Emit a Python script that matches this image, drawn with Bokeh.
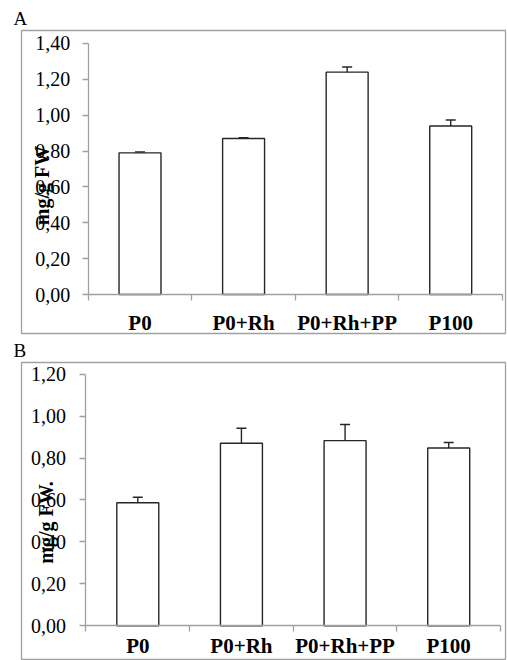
import math
from bokeh.plotting import figure
from bokeh.layouts import column
from bokeh.models import (LinearAxis, FixedTicker, Range1d, Whisker, TeeHead,
                          ColumnDataSource, Label)
from bokeh.embed import file_html
from bokeh.resources import INLINE

# ---------------- data ----------------
categories = ["P0", "P0+Rh", "P0+Rh+PP", "P100"]

a_values = [0.79, 0.87, 1.24, 0.94]
a_errors = [0.005, 0.005, 0.029, 0.033]
a_ticks = [0.0, 0.2, 0.4, 0.6, 0.8, 1.0, 1.2, 1.4]
a_ylabel = "mg/g FW"

b_values = [0.587, 0.871, 0.883, 0.848]
b_errors = [0.026, 0.071, 0.077, 0.026]
b_ticks = [0.0, 0.2, 0.4, 0.6, 0.8, 1.0, 1.2]
b_ylabel = "mg/g FW."

SERIF = "Liberation Serif"
GRAY = "#a0a0a0"
DARK = "#262626"


def tick_label(v):
    return f"{v:.2f}".replace(".", ",")


def panel(letter, vals, errs, ticks, ylabel, width, height, mb_top, mb_left,
          mb_right, mb_bottom, x_start, x_end, y_start, y_end, lab_x, lab_y,
          standoff, xl_standoff):
    p = figure(width=width, height=height, output_backend="svg",
               toolbar_location=None, x_axis_location=None,
               y_axis_location=None,
               x_range=Range1d(x_start, x_end), y_range=Range1d(y_start, y_end),
               min_border_top=mb_top, min_border_left=mb_left,
               min_border_right=mb_right, min_border_bottom=mb_bottom)
    p.grid.grid_line_color = None
    p.outline_line_color = GRAY
    p.outline_line_width = 1.3
    p.background_fill_color = "white"
    p.border_fill_color = "white"

    p.title.text = letter
    p.title.text_font = SERIF
    p.title.text_font_size = "19px"
    p.title.text_font_style = "normal"
    p.title.text_color = "black"
    p.title.align = "left"
    p.title.offset = -8
    p.title.standoff = 4

    xs = [i + 0.5 for i in range(len(categories))]
    src = ColumnDataSource(dict(x=xs, top=vals,
                                upper=[v + e for v, e in zip(vals, errs)],
                                lower=[v - e for v, e in zip(vals, errs)]))
    p.vbar(x="x", top="top", bottom=0, width=0.405, source=src,
           fill_color="white", line_color=DARK, line_width=1.4)
    p.add_layout(Whisker(base="x", upper="upper", lower="lower", source=src,
                         line_color=DARK, line_width=1.4,
                         upper_head=TeeHead(size=10, line_color=DARK, line_width=1.4),
                         lower_head=TeeHead(size=10, line_color=DARK, line_width=1.4)))

    # y axis
    ya = LinearAxis(fixed_location=0, ticker=FixedTicker(ticks=ticks),
                    bounds=(ticks[0], ticks[-1]))
    ya.major_label_overrides = {t: tick_label(t) for t in ticks}
    ya.axis_line_color = GRAY
    ya.axis_line_width = 1.3
    ya.major_tick_line_color = GRAY
    ya.major_tick_line_width = 1.3
    ya.major_tick_out = 6
    ya.major_tick_in = 0
    ya.minor_tick_line_color = None
    ya.major_label_standoff = standoff
    ya.major_label_text_font = SERIF
    ya.major_label_text_font_size = "20px"
    ya.major_label_text_color = "black"
    p.add_layout(ya, "left")

    # x axis line and boundary ticks
    n = len(categories)
    xa = LinearAxis(fixed_location=0, ticker=FixedTicker(ticks=list(range(n + 1))),
                    bounds=(0, n))
    xa.major_label_text_font_size = "0px"
    xa.major_label_text_color = None
    xa.axis_line_color = GRAY
    xa.axis_line_width = 1.3
    xa.major_tick_line_color = GRAY
    xa.major_tick_line_width = 1.3
    xa.major_tick_out = 6
    xa.major_tick_in = 0
    xa.minor_tick_line_color = None
    p.add_layout(xa, "below")

    # category labels
    xl = LinearAxis(fixed_location=0, ticker=FixedTicker(ticks=xs))
    xl.major_label_overrides = {x: c for x, c in zip(xs, categories)}
    xl.axis_line_color = None
    xl.major_tick_line_color = None
    xl.minor_tick_line_color = None
    xl.major_label_standoff = xl_standoff
    xl.major_label_text_font = SERIF
    xl.major_label_text_font_size = "21px"
    xl.major_label_text_font_style = "bold"
    xl.major_label_text_color = "black"
    p.add_layout(xl, "below")

    p.add_layout(Label(x=lab_x, y=lab_y, text=ylabel, angle=math.pi / 2,
                       text_align="center", text_baseline="middle",
                       text_font=SERIF, text_font_size="20px",
                       text_font_style="bold", text_color="black"))
    return p


# panel A: frame page x 21..507, y 30..333 ; axis x=88, y0 at 294
WA, SA = 104.0, 179.3
pa = panel("A", a_values, a_errors, a_ticks, a_ylabel, 507, 335, 30, 21, 0, 2,
           (21 - 88) / WA, (507 - 88) / WA,
           -(333 - 294) / SA, (294 - 30) / SA,
           (42 - 88) / WA, (294 - 185) / SA, 12, 10)
# panel B: frame page x 17..505, y 360..660 ; axis x=82, y0 at 625
WB, SB = 104.5, 211.0
pb = panel("B", b_values, b_errors, b_ticks, b_ylabel, 507, 325, 25, 17, 2, 0,
           (17 - 82) / WB, (505 - 82) / WB,
           -(660 - 625) / SB, (625 - 360) / SB,
           (42 - 82) / WB, (625 - 521) / SB, 14, 2)

layout = column(pa, pb, spacing=0)
open("out.html", "w").write(file_html(layout, INLINE))
